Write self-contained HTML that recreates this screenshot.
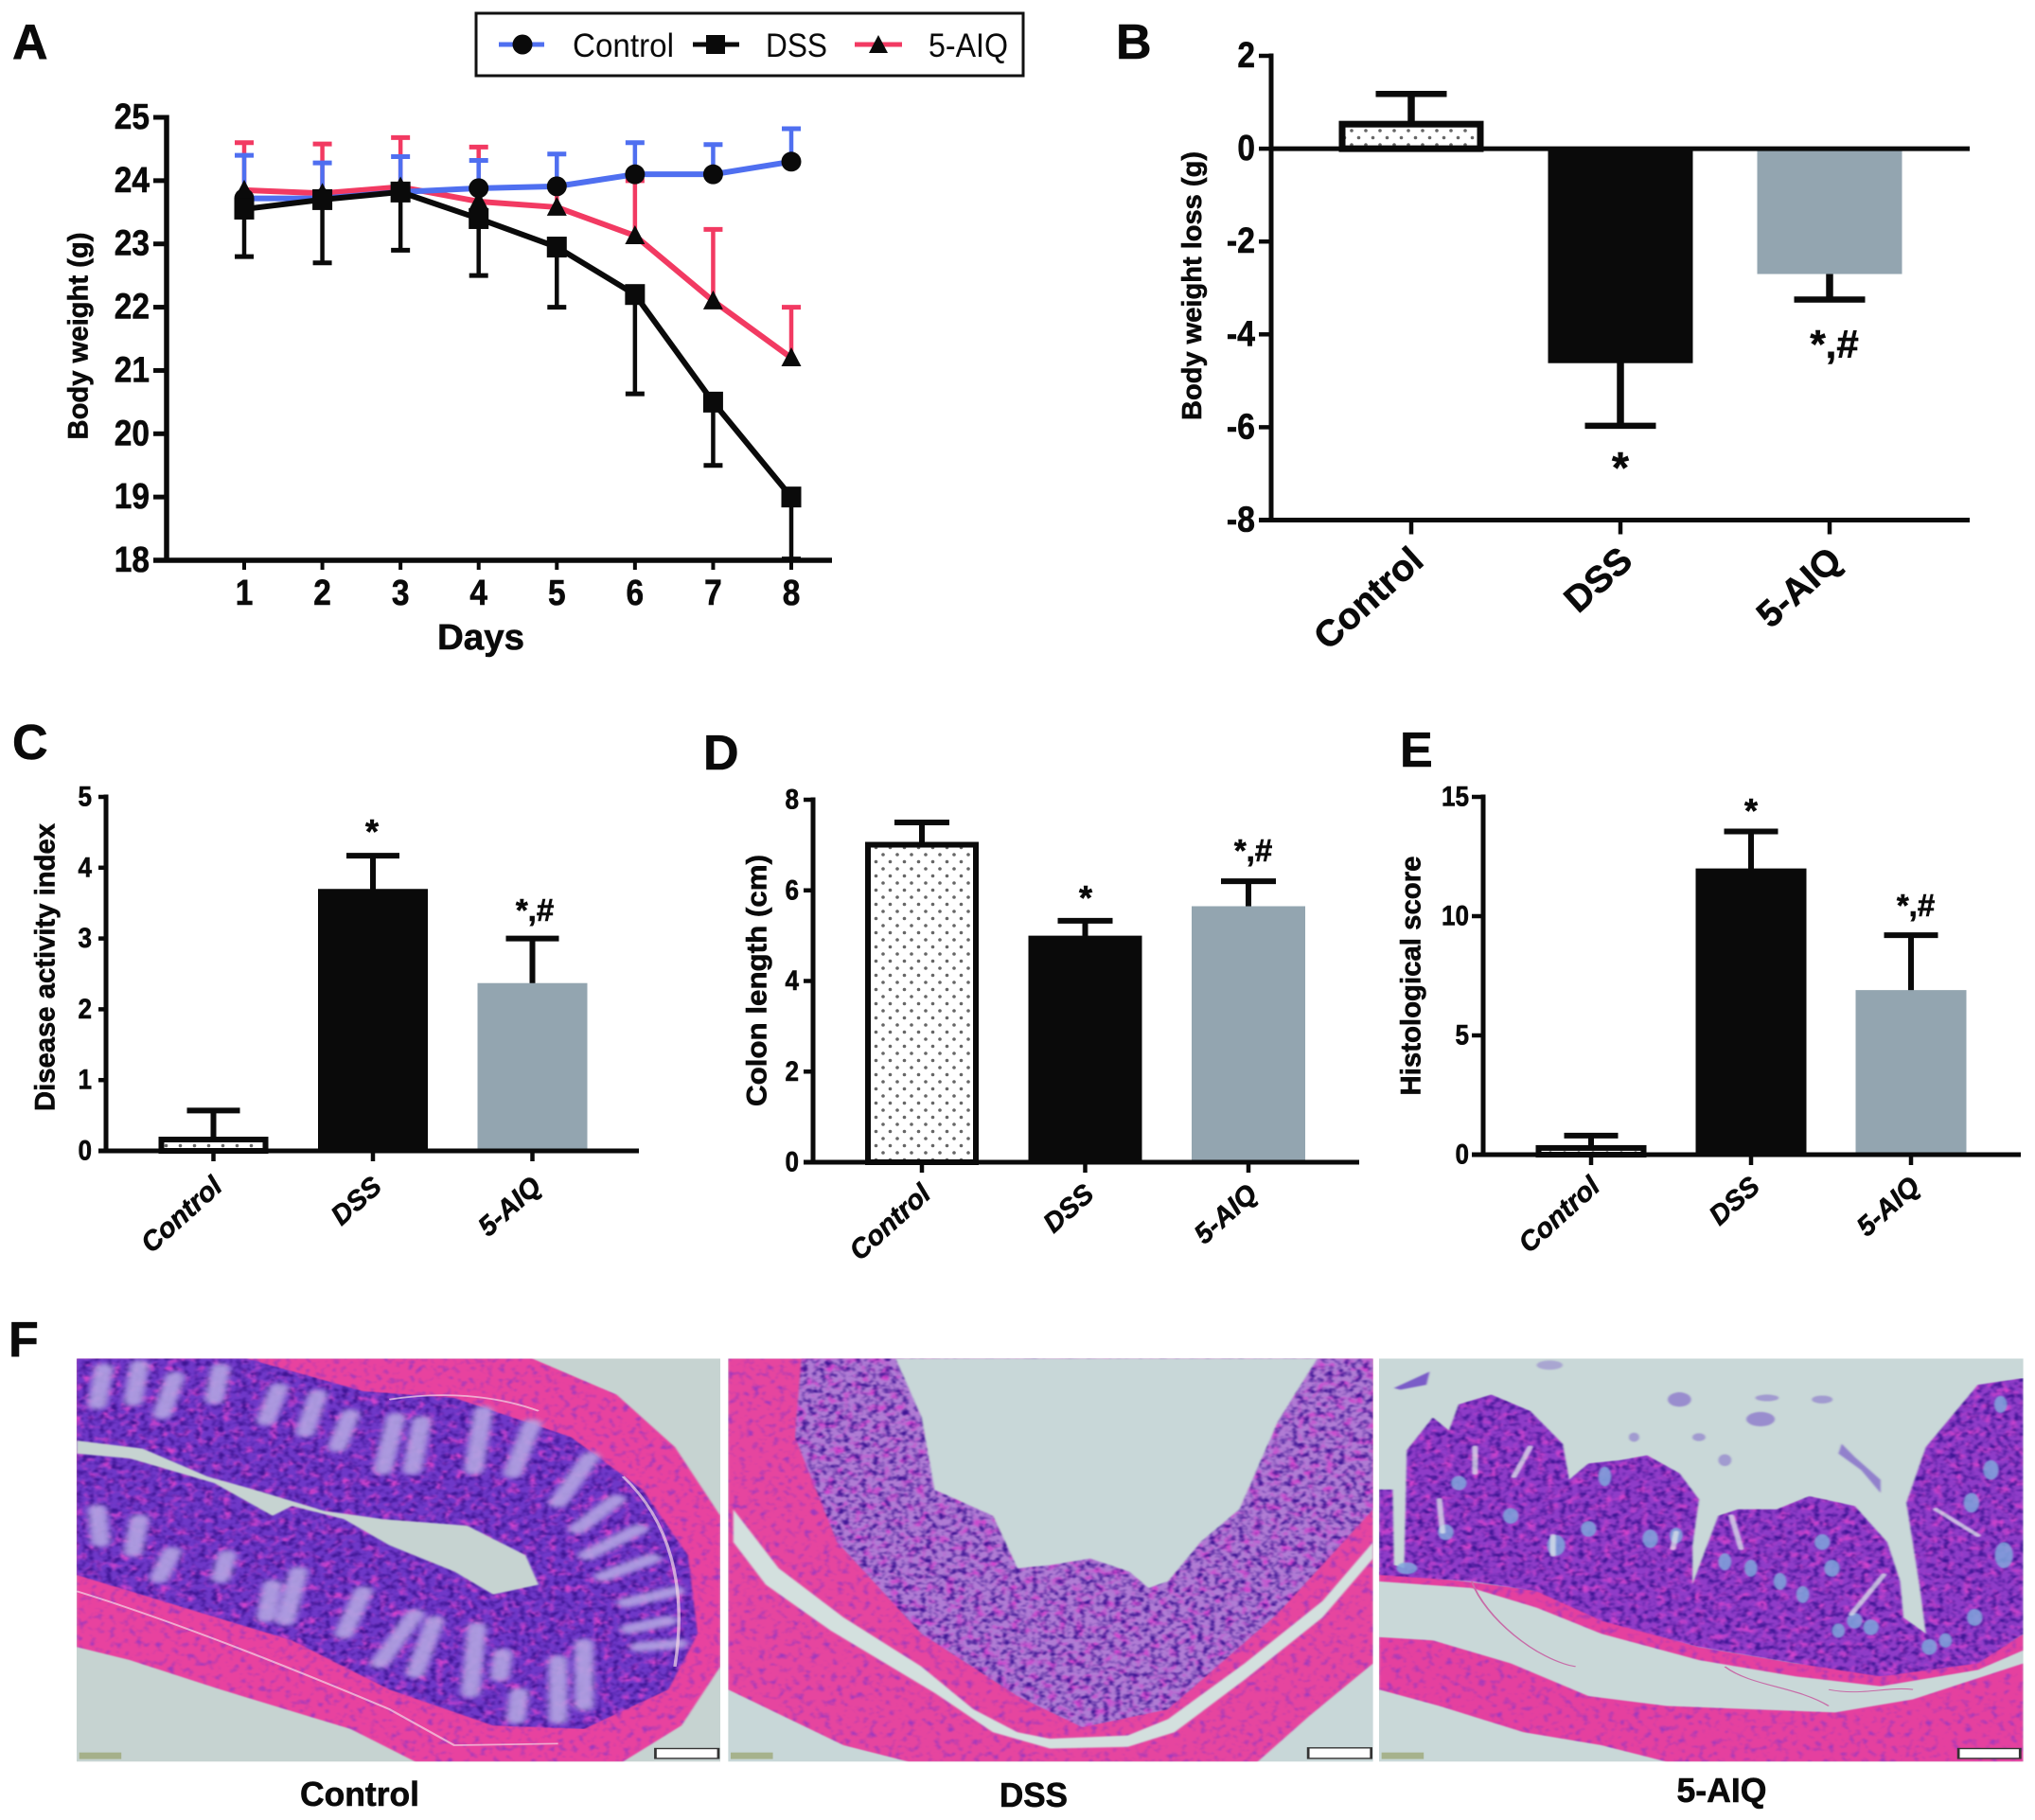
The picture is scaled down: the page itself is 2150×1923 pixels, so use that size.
<!DOCTYPE html>
<html lang="en">
<head>
<meta charset="utf-8">
<title>5-AIQ colitis figure</title>
<style>
html,body{margin:0;padding:0;background:#fff;}
svg{display:block;font-family:"Liberation Sans",Arial,sans-serif;}
text{fill:#0a0a0a;font-weight:bold;stroke:#0a0a0a;stroke-width:.6px;}
text.plain{font-weight:normal;stroke:none;}
</style>
</head>
<body>
<svg id="figure" xmlns="http://www.w3.org/2000/svg" width="2150" height="1923" viewBox="0 0 2150 1923">
<defs>
<pattern id="dots" patternUnits="userSpaceOnUse" width="15" height="15">
<circle cx="3" cy="3" r="1.8" fill="#666"/>
<circle cx="10.5" cy="10.5" r="1.8" fill="#666"/>
</pattern>
<filter id="texDense" x="0" y="0" width="100%" height="100%" color-interpolation-filters="sRGB">
<feTurbulence type="fractalNoise" baseFrequency="0.11 0.06" numOctaves="2" seed="4" result="n"/>
<feColorMatrix in="n" type="matrix" values="0 0 0 0 .24  0 0 0 0 .08  0 0 0 0 .58  3 0 0 0 -1.35" result="d"/>
<feComposite in="d" in2="SourceAlpha" operator="in" result="dc"/>
<feTurbulence type="fractalNoise" baseFrequency="0.07 0.04" numOctaves="2" seed="11" result="m"/>
<feColorMatrix in="m" type="matrix" values="0 0 0 0 .82  0 0 0 0 .26  0 0 0 0 .8  3 0 0 0 -1.45" result="p"/>
<feComposite in="p" in2="SourceAlpha" operator="in" result="pc"/>
<feMerge result="all"><feMergeNode in="SourceGraphic"/><feMergeNode in="pc"/><feMergeNode in="dc"/></feMerge>
<feGaussianBlur in="all" stdDeviation="1.6"/>
</filter>
<filter id="texLight" x="0" y="0" width="100%" height="100%" color-interpolation-filters="sRGB">
<feTurbulence type="fractalNoise" baseFrequency="0.1 0.05" numOctaves="2" seed="7" result="n"/>
<feColorMatrix in="n" type="matrix" values="0 0 0 0 .62  0 0 0 0 .22  0 0 0 0 .74  3.4 0 0 0 -1.8" result="d"/>
<feComposite in="d" in2="SourceAlpha" operator="in" result="dc"/>
<feMerge result="all"><feMergeNode in="SourceGraphic"/><feMergeNode in="dc"/></feMerge>
<feGaussianBlur in="all" stdDeviation="1.6"/>
</filter>
<filter id="soft" x="-5%" y="-5%" width="110%" height="110%">
<feGaussianBlur stdDeviation="5 7"/>
</filter>
<filter id="softThin" x="-5%" y="-5%" width="110%" height="110%">
<feGaussianBlur stdDeviation="1.5 2.5"/>
</filter>
<clipPath id="clipP1"><rect x="118" y="160" width="992" height="1230"/></clipPath>
<clipPath id="clipP2"><rect x="1122" y="160" width="994" height="1230"/></clipPath>
<clipPath id="clipP3"><rect x="557" y="160" width="993" height="1230"/></clipPath>
<path id="crypts1" d="M160 190L150 300M215 180L205 290M270 215L250 330M340 190L330 285M430 250L410 350M490 270L470 385M540 330L520 430M610 340L590 500M650 350L635 500M745 320L730 500M820 360L790 510M910 460L860 600M950 590L890 680M985 680L905 760M1005 770L930 825M1040 870L965 905M1030 960L970 985M1045 1030L985 1040M150 620L155 720M215 650L205 750M265 750L245 830M350 760L340 830M420 850L410 950M460 810L440 960M560 870L530 1000M640 940L585 1090M670 960L640 1120M735 980L725 1180M775 1060L770 1130M860 1080L860 1260M900 1030L900 1220M800 1180L795 1260"/>
</defs>

<rect x="0" y="0" width="2150" height="1923" fill="#fff"/>

<!-- Panel letters -->
<text x="13" y="62" font-size="52">A</text>
<text x="1179" y="62" font-size="52">B</text>
<text x="13" y="802" font-size="52">C</text>
<text x="743" y="813" font-size="52">D</text>
<text x="1479" y="810" font-size="52">E</text>
<text x="9" y="1433" font-size="52">F</text>

<!-- Legend -->
<g>
<rect x="503" y="14" width="578" height="66" fill="#fff" stroke="#111" stroke-width="3"/>
<g>
<line x1="527" y1="47" x2="575" y2="47" stroke="#4f6ff0" stroke-width="5"/>
<circle cx="552" cy="47" r="10.5" fill="#0a0a0a"/>
<text class="plain" x="605" y="60" font-size="35" textLength="107" lengthAdjust="spacingAndGlyphs">Control</text>
</g>
<g>
<line x1="732" y1="47" x2="781" y2="47" stroke="#0a0a0a" stroke-width="5"/>
<rect x="746" y="37" width="20" height="20" fill="#0a0a0a"/>
<text class="plain" x="809" y="60" font-size="35" textLength="65" lengthAdjust="spacingAndGlyphs">DSS</text>
</g>
<g>
<line x1="903" y1="47" x2="953" y2="47" stroke="#f23a62" stroke-width="5"/>
<path d="M928 37L938 56L918 56Z" fill="#0a0a0a"/>
<text class="plain" x="981" y="60" font-size="35" textLength="84" lengthAdjust="spacingAndGlyphs">5-AIQ</text>
</g>
</g>

<!-- Axis titles -->
<text transform="rotate(-90 83 355)" x="83" y="355" font-size="30" text-anchor="middle" dominant-baseline="central" textLength="219" lengthAdjust="spacingAndGlyphs">Body weight (g)</text>
<text x="508" y="686" font-size="38" text-anchor="middle" textLength="92" lengthAdjust="spacingAndGlyphs">Days</text>
<text transform="rotate(-90 1260 302)" x="1260" y="302" font-size="29" text-anchor="middle" dominant-baseline="central" textLength="284" lengthAdjust="spacingAndGlyphs">Body weight loss (g)</text>
<text transform="rotate(-90 48 1022)" x="48" y="1022" font-size="30" text-anchor="middle" dominant-baseline="central" textLength="304" lengthAdjust="spacingAndGlyphs">Disease activity index</text>
<text transform="rotate(-90 800 1036)" x="800" y="1036" font-size="30" text-anchor="middle" dominant-baseline="central" textLength="266" lengthAdjust="spacingAndGlyphs">Colon length (cm)</text>
<text transform="rotate(-90 1491 1031)" x="1491" y="1031" font-size="30" text-anchor="middle" dominant-baseline="central" textLength="253" lengthAdjust="spacingAndGlyphs">Histological score</text>

<!-- Significance marks -->
<text x="1712" y="510" font-size="46" text-anchor="middle">*</text>
<text x="1938" y="378" font-size="42" text-anchor="middle">*,#</text>
<text x="393" y="891" font-size="36" text-anchor="middle">*</text>
<text x="565" y="973" font-size="33" text-anchor="middle">*,#</text>
<text x="1147" y="961" font-size="36" text-anchor="middle">*</text>
<text x="1324" y="910" font-size="33" text-anchor="middle">*,#</text>
<text x="1850" y="869" font-size="36" text-anchor="middle">*</text>
<text x="2024" y="968" font-size="33" text-anchor="middle">*,#</text>

<g id="charts"></g>

<!-- Panel F: histology (illustrative tissue shapes, not data) -->
<g transform="translate(0,1380) scale(.6856,.3463)">

<g clip-path="url(#clipP1)">
<rect x="118" y="160" width="992" height="1230" fill="#c6d3d1"/>
<polygon filter="url(#texLight)" fill="#e8429f" points="118,160 820,160 950,270 1040,430 1110,640 1110,1100 1050,1280 960,1390 640,1390 540,1290 340,1170 200,1080 118,1040"/>
<polygon filter="url(#texDense)" fill="#6f38c8" points="118,160 380,160 560,260 700,280 880,400 990,560 1060,760 1075,1000 1030,1170 900,1290 760,1280 600,1170 450,1020 300,930 118,820"/>
<use href="#crypts1" fill="none" stroke="#b3a4e2" stroke-width="30" stroke-linecap="round" filter="url(#soft)" opacity=".9"/>
<polygon fill="#c6d3d1" filter="url(#softThin)" points="118,410 220,435 320,520 400,565 500,625 590,650 720,670 810,760 830,850 760,880 700,810 600,730 530,650 450,610 420,640 330,540 200,465 118,450"/>
<path d="M600 285C680 260 760 270 830 320M118 870C250 950 420 1080 600 1230L700 1340 860 1335M960 520C1030 650 1060 850 1040 1100" fill="none" stroke="#f3d9e6" stroke-width="5" opacity=".7"/>
<rect x="1010" y="1350" width="97" height="30" fill="#fff" stroke="#333" stroke-width="4"/>
<rect x="122" y="1362" width="65" height="20" fill="#8f9a5a" opacity=".6"/>
</g>

<g clip-path="url(#clipP2)">
<rect x="1122" y="160" width="994" height="1230" fill="#c8d7d8"/>
<polygon filter="url(#texLight)" fill="#e6459f" points="1122,160 2116,160 2116,1090 2018,1250 1938,1390 1400,1390 1300,1340 1122,1170"/>
<polygon filter="url(#texDense)" fill="#b07cd4" points="1235,160 2116,160 2116,620 1968,940 1800,1230 1668,1285 1568,1190 1420,1000 1290,720 1225,400"/>
<polygon fill="#c8d7d8" filter="url(#softThin)" points="1380,160 1420,340 1440,560 1530,640 1568,800 1620,790 1680,770 1740,810 1770,860 1800,840 1850,720 1910,620 1970,350 2030,160"/>
<polygon fill="#d3e0de" filter="url(#softThin)" points="1130,620 1200,800 1300,950 1420,1100 1500,1230 1568,1300 1618,1320 1738,1310 1800,1260 1918,1090 2038,900 2116,720 2116,770 2038,950 1918,1140 1810,1300 1738,1345 1618,1350 1530,1300 1440,1180 1280,990 1180,850 1130,720"/>
<rect x="2016" y="1348" width="97" height="32" fill="#fff" stroke="#333" stroke-width="4"/>
<rect x="1126" y="1362" width="65" height="20" fill="#8f9a5a" opacity=".6"/>
</g>

<g transform="translate(1568,0)" clip-path="url(#clipP3)">
<rect x="557" y="160" width="993" height="1230" fill="#c9d8d8"/>
<polygon filter="url(#texLight)" fill="#e5409f" points="557,1010 640,1020 760,1090 880,1190 1000,1220 1130,1230 1260,1240 1380,1200 1550,1090 1550,1390 1000,1390 900,1340 780,1300 650,1220 557,1170"/>
<polygon filter="url(#texLight)" fill="#e5409f" points="557,810 690,840 810,870 900,950 1050,1040 1200,1090 1280,1100 1330,1120 1480,1080 1550,1000 1550,1050 1480,1110 1330,1160 1200,1130 1050,1080 900,1000 800,920 700,860 557,840"/>
<polygon filter="url(#texDense)" fill="#8f3cc8" points="557,560 578,560 580,790 596,800 600,440 640,340 665,380 680,300 730,270 790,320 840,420 850,530 880,480 930,470 970,455 1020,510 1050,590 1040,730 1040,850 1080,640 1110,620 1170,620 1220,580 1290,610 1340,720 1360,840 1365,950 1400,1000 1390,850 1370,600 1400,430 1480,240 1550,220 1550,1000 1480,1090 1330,1130 1200,1090 1050,1040 900,960 800,870 700,840 557,820"/>
<g fill="#7fa6dc" filter="url(#softThin)" opacity=".85">
<ellipse cx="680" cy="540" rx="12" ry="22"/><ellipse cx="660" cy="690" rx="12" ry="24"/><ellipse cx="600" cy="800" rx="16" ry="18"/>
<ellipse cx="760" cy="640" rx="12" ry="24"/><ellipse cx="830" cy="730" rx="14" ry="32"/><ellipse cx="880" cy="680" rx="12" ry="24"/>
<ellipse cx="975" cy="710" rx="12" ry="28"/><ellipse cx="1015" cy="700" rx="10" ry="24"/><ellipse cx="905" cy="520" rx="10" ry="30"/>
<ellipse cx="1090" cy="780" rx="10" ry="26"/><ellipse cx="1130" cy="800" rx="10" ry="26"/><ellipse cx="1175" cy="840" rx="10" ry="26"/>
<ellipse cx="1210" cy="880" rx="10" ry="26"/><ellipse cx="1240" cy="720" rx="12" ry="24"/><ellipse cx="1255" cy="800" rx="12" ry="26"/>
<ellipse cx="1290" cy="960" rx="12" ry="24"/><ellipse cx="1315" cy="980" rx="12" ry="24"/><ellipse cx="1265" cy="990" rx="10" ry="22"/>
<ellipse cx="1405" cy="1040" rx="12" ry="24"/><ellipse cx="1430" cy="1020" rx="10" ry="22"/><ellipse cx="1475" cy="950" rx="12" ry="26"/>
<ellipse cx="1500" cy="500" rx="12" ry="30"/><ellipse cx="1470" cy="600" rx="12" ry="30"/><ellipse cx="1520" cy="760" rx="14" ry="40"/><ellipse cx="1515" cy="300" rx="10" ry="26"/>
</g>
<g fill="none" stroke="#dfe6ea" stroke-width="9" stroke-linecap="round" filter="url(#softThin)" opacity=".75">
<path d="M705 430L705 510M650 590L655 690M790 430L765 520M825 700L825 760M1015 690L1010 740M1100 640L1115 740M1335 820L1285 940M1415 620L1480 700"/>
</g>
<g fill="#7a5cc8" filter="url(#softThin)">
<path d="M580 250L635 200 630 240 590 255Z"/>
<ellipse cx="1020" cy="285" rx="18" ry="22" opacity=".6"/><ellipse cx="1145" cy="345" rx="22" ry="22" opacity=".6"/><ellipse cx="1155" cy="280" rx="18" ry="10" opacity=".5"/>
<ellipse cx="1240" cy="285" rx="16" ry="12" opacity=".5"/><ellipse cx="820" cy="180" rx="20" ry="14" opacity=".4"/><ellipse cx="1090" cy="470" rx="10" ry="18" opacity=".5"/>
<ellipse cx="1050" cy="400" rx="10" ry="12" opacity=".5"/><ellipse cx="950" cy="400" rx="8" ry="14" opacity=".5"/>
<path d="M1270 420L1290 460 1330 530 1330 570 1300 500 1265 450Z" opacity=".7"/>
</g>
<path d="M700 840C720 950 800 1080 860 1100M1090 1100C1130 1160 1200 1160 1250 1220M1250 1170C1300 1190 1340 1160 1380 1170" fill="none" stroke="#c86ca8" stroke-width="3"/>
<rect x="1450" y="1350" width="95" height="30" fill="#fff" stroke="#333" stroke-width="4"/>
<rect x="561" y="1362" width="65" height="20" fill="#8f9a5a" opacity=".6"/>
</g>
</g>

<text x="380" y="1908" font-size="36" text-anchor="middle" textLength="126" lengthAdjust="spacingAndGlyphs">Control</text>
<text x="1092" y="1909" font-size="36" text-anchor="middle" textLength="72" lengthAdjust="spacingAndGlyphs">DSS</text>
<text x="1819" y="1904" font-size="36" text-anchor="middle" textLength="95" lengthAdjust="spacingAndGlyphs">5-AIQ</text>

<script>
// ---- Panel A data ----
const days = [1, 2, 3, 4, 5, 6, 7, 8];
const bodyWeightTicks = [18, 19, 20, 21, 22, 23, 24, 25];
const controlWeight = [23.72, 23.72, 23.82, 23.88, 23.91, 24.1, 24.1, 24.3];
const controlWeightUpper = [24.4, 24.28, 24.38, 24.32, 24.42, 24.6, 24.57, 24.82];
const dssWeight = [23.55, 23.7, 23.82, 23.4, 22.95, 22.2, 20.5, 19.0];
const dssWeightLower = [22.8, 22.7, 22.9, 22.5, 22.0, 20.63, 19.5, 18.02];
const aiqWeight = [23.85, 23.8, 23.9, 23.67, 23.58, 23.13, 22.1, 21.2];
const aiqWeightUpper = [24.6, 24.58, 24.68, 24.53, 23.9, 24.0, 23.23, 22.0];

// ---- Bar panels data ----
const groupNames = ['Control', 'DSS', '5-AIQ'];
const weightLossTicks = [-8, -6, -4, -2, 0, 2];
const weightLossValues = [0.6, -4.62, -2.7];
const weightLossErrors = [1.18, -5.97, -3.25];
const activityTicks = [0, 1, 2, 3, 4, 5];
const activityValues = [0.2, 3.7, 2.37];
const activityErrors = [0.57, 4.17, 3.0];
const colonTicks = [0, 2, 4, 6, 8];
const colonValues = [7.07, 5.0, 5.65];
const colonErrors = [7.5, 5.33, 6.2];
const histologyTicks = [0, 5, 10, 15];
const histologyValues = [0.4, 12.0, 6.9];
const histologyErrors = [0.8, 13.55, 9.2];

const SVGNS = 'http://www.w3.org/2000/svg';
const chartRoot = document.getElementById('charts');

function mk(tag, parent) {
  const el = document.createElementNS(SVGNS, tag);
  (parent || chartRoot).appendChild(el);
  return el;
}
function seg(el, x1, y1, x2, y2, color, width) {
  el.setAttribute('x1', x1);
  el.setAttribute('y1', y1);
  el.setAttribute('x2', x2);
  el.setAttribute('y2', y2);
  el.setAttribute('stroke', color);
  el.setAttribute('stroke-width', width);
}
function linear(d0, d1, r0, r1) {
  return function (v) { return r0 + (v - d0) * (r1 - r0) / (d1 - d0); };
}
function condense(el, value, digitWidth) {
  const s = String(value);
  const n = s.replace('-', '').length;
  el.setAttribute('textLength', n * digitWidth + (s.charAt(0) === '-' ? digitWidth * 0.62 : 0));
  el.setAttribute('lengthAdjust', 'spacingAndGlyphs');
}

// ---- Panel A ----
const BLACK = '#0a0a0a';
const BLUE = '#4f6ff0';
const RED = '#f23a62';
const xDay = linear(1, 8, 258, 836);
const yWeight = linear(18, 25, 592, 124);

(function drawAxesA() {
  const yAxis = mk('line');
  
  
  seg(yAxis, 176, yWeight(25) - 2.5, 176, yWeight(18) + 2.5, BLACK, 5.5);
  const xAxis = mk('line');
  
  
  seg(xAxis, 162, yWeight(18), 879, yWeight(18), BLACK, 5.5);
  bodyWeightTicks.forEach(function (t) {
    const tick = mk('line');
    
    
    seg(tick, 162, yWeight(t), 176, yWeight(t), BLACK, 5);
    const lab = mk('text');
    
    
    lab.setAttribute('x', 158);
    lab.setAttribute('y', yWeight(t));
    lab.setAttribute('text-anchor', 'end');
    lab.setAttribute('dominant-baseline', 'central');
    lab.setAttribute('font-size', 38);
    condense(lab, t, 18.6);
    lab.textContent = t;
  });
  days.forEach(function (d) {
    const tick = mk('line');
    
    
    seg(tick, xDay(d), yWeight(18), xDay(d), yWeight(18) + 10, BLACK, 4);
    const lab = mk('text');
    
    
    lab.setAttribute('x', xDay(d));
    lab.setAttribute('y', 627);
    lab.setAttribute('text-anchor', 'middle');
    lab.setAttribute('dominant-baseline', 'central');
    lab.setAttribute('font-size', 38);
    condense(lab, d, 18.6);
    lab.textContent = d;
  });
})();

function drawSeriesLines(means, bounds, color) {
  means.forEach(function (m, i) {
    const x = xDay(days[i]);
    const stem = mk('line');
    
    
    seg(stem, x, yWeight(m), x, yWeight(bounds[i]), color, 4.5);
    const cap = mk('line');
    
    
    seg(cap, x - 10, yWeight(bounds[i]), x + 10, yWeight(bounds[i]), color, 5);
  });
  const line = mk('polyline');
  
  
  line.setAttribute('points', means.map(function (m, i) { return xDay(days[i]) + ',' + yWeight(m); }).join(' '));
  line.setAttribute('fill', 'none');
  line.setAttribute('stroke', color);
  line.setAttribute('stroke-width', 6);
  line.setAttribute('stroke-linejoin', 'round');
}
drawSeriesLines(aiqWeight, aiqWeightUpper, RED);
drawSeriesLines(controlWeight, controlWeightUpper, BLUE);
drawSeriesLines(dssWeight, dssWeightLower, BLACK);

controlWeight.forEach(function (m, i) {
  const c = mk('circle');
  
  
  c.setAttribute('cx', xDay(days[i]));
  c.setAttribute('cy', yWeight(m));
  c.setAttribute('r', 10.5);
  c.setAttribute('fill', BLACK);
});
aiqWeight.forEach(function (m, i) {
  const x = xDay(days[i]);
  const y = yWeight(m);
  const t = mk('path');
  
  
  t.setAttribute('d', 'M' + x + ' ' + (y - 11) + 'L' + (x + 10.5) + ' ' + (y + 9) + 'L' + (x - 10.5) + ' ' + (y + 9) + 'Z');
  t.setAttribute('fill', BLACK);
});
dssWeight.forEach(function (m, i) {
  const s = mk('rect');
  
  
  s.setAttribute('x', xDay(days[i]) - 10.5);
  s.setAttribute('y', yWeight(m) - 11);
  s.setAttribute('width', 21);
  s.setAttribute('height', 22);
  s.setAttribute('fill', BLACK);
});

// ---- Bar panels ----
function drawBarPanel(name, values, errors, ticks, layout) {
  const y = linear(layout.dMin, layout.dMax, layout.yBottom, layout.yTop);
  const xc = function (i) { return layout.firstCenter + i * layout.step; };
  const baseline = y(0);

  const yAxis = mk('line');
  
  
  seg(yAxis, layout.axisX, layout.yTop - 2.5, layout.axisX, layout.yBottom + 2.5, BLACK, 5);
  ticks.forEach(function (t) {
    const tick = mk('line');
    
    
    seg(tick, layout.tickLeft, y(t), layout.axisX, y(t), BLACK, 4.5);
    const lab = mk('text');
    
    
    lab.setAttribute('x', layout.labelRight);
    lab.setAttribute('y', y(t));
    lab.setAttribute('text-anchor', 'end');
    lab.setAttribute('dominant-baseline', 'central');
    lab.setAttribute('font-size', layout.tickFont);
    condense(lab, t, layout.digitW);
    lab.textContent = t;
  });

  const eh = layout.errLine;
  values.forEach(function (v, i) {
    const stem = mk('line');
    
    
    seg(stem, xc(i), y(v + (v - errors[i]) * 0.1), xc(i), y(errors[i]), BLACK, eh);
    const cap = mk('line');
    
    
    seg(cap, xc(i) - layout.capW / 2, y(errors[i]), xc(i) + layout.capW / 2, y(errors[i]), BLACK, layout.capStroke);
  });

  values.forEach(function (v, i) {
    const top = Math.min(y(v), baseline);
    const h = Math.abs(y(v) - baseline);
    const bar = mk('rect');
    
    
    const sw = layout.outline;
    if (i === 0) {
      bar.setAttribute('x', xc(i) - layout.barW / 2 + sw / 2);
      bar.setAttribute('y', top + sw / 2);
      bar.setAttribute('width', layout.barW - sw);
      bar.setAttribute('height', Math.max(h - sw / 2, 1));
      bar.setAttribute('fill', 'url(#dots)');
      bar.setAttribute('stroke', BLACK);
      bar.setAttribute('stroke-width', sw);
    } else {
      bar.setAttribute('x', xc(i) - layout.barW / 2);
      bar.setAttribute('y', top);
      bar.setAttribute('width', layout.barW);
      bar.setAttribute('height', h);
      bar.setAttribute('fill', i === 1 ? BLACK : '#93a5b0');
    }
  });

  const zero = mk('line');
  
  
  seg(zero, layout.dMin === 0 ? layout.tickLeft : layout.axisX, baseline, layout.xEnd, baseline, BLACK, 5);
  if (layout.dMin !== 0) {
    const bottom = mk('line');
    
    
    seg(bottom, layout.tickLeft, layout.yBottom, layout.xEnd, layout.yBottom, BLACK, 5);
  }

  groupNames.forEach(function (g, i) {
    const tick = mk('line');
    
    
    seg(tick, xc(i), layout.yBottom, xc(i), layout.yBottom + layout.tickDown, BLACK, 4.5);
    const lab = mk('text');
    
    
    const lx = xc(i) + layout.labelDx;
    const ly = layout.yBottom + layout.labelDy;
    lab.setAttribute('transform', 'rotate(-42 ' + lx + ' ' + ly + ')');
    lab.setAttribute('x', lx);
    lab.setAttribute('y', ly);
    lab.setAttribute('text-anchor', 'end');
    lab.setAttribute('font-size', layout.catFont);
    lab.setAttribute('font-style', layout.catStyle);
    lab.textContent = g;
  });
}

drawBarPanel('panel-b', weightLossValues, weightLossErrors, weightLossTicks, {
  dMin: -8, dMax: 2, yBottom: 549.5, yTop: 59, axisX: 1343, tickLeft: 1330, labelRight: 1326, xEnd: 2081,
  firstCenter: 1491, step: 221, barW: 153, capW: 75, capStroke: 6.5, errLine: 7.5, outline: 7, tickFont: 38, digitW: 18.6,
  tickDown: 15, labelDx: 15, labelDy: 46, catFont: 39, catStyle: 'normal'
});
drawBarPanel('panel-c', activityValues, activityErrors, activityTicks, {
  dMin: 0, dMax: 5, yBottom: 1216, yTop: 842, axisX: 112, tickLeft: 104, labelRight: 97, xEnd: 675,
  firstCenter: 225.5, step: 168.5, barW: 116, capW: 56, capStroke: 6, errLine: 6, outline: 6, tickFont: 30, digitW: 14.5,
  tickDown: 11, labelDx: 11, labelDy: 40, catFont: 29, catStyle: 'italic'
});
drawBarPanel('panel-d', colonValues, colonErrors, colonTicks, {
  dMin: 0, dMax: 8, yBottom: 1228, yTop: 845, axisX: 859, tickLeft: 849, labelRight: 844, xEnd: 1436,
  firstCenter: 974, step: 172.5, barW: 120, capW: 58, capStroke: 6, errLine: 6, outline: 6, tickFont: 30, digitW: 14.5,
  tickDown: 11, labelDx: 11, labelDy: 36, catFont: 29, catStyle: 'italic'
});
drawBarPanel('panel-e', histologyValues, histologyErrors, histologyTicks, {
  dMin: 0, dMax: 15, yBottom: 1220, yTop: 842, axisX: 1567, tickLeft: 1555, labelRight: 1552, xEnd: 2135,
  firstCenter: 1681, step: 169, barW: 117, capW: 57, capStroke: 6, errLine: 6, outline: 6, tickFont: 30, digitW: 14.5,
  tickDown: 11, labelDx: 11, labelDy: 36, catFont: 29, catStyle: 'italic'
});
</script>
</svg>
</body>
</html>
